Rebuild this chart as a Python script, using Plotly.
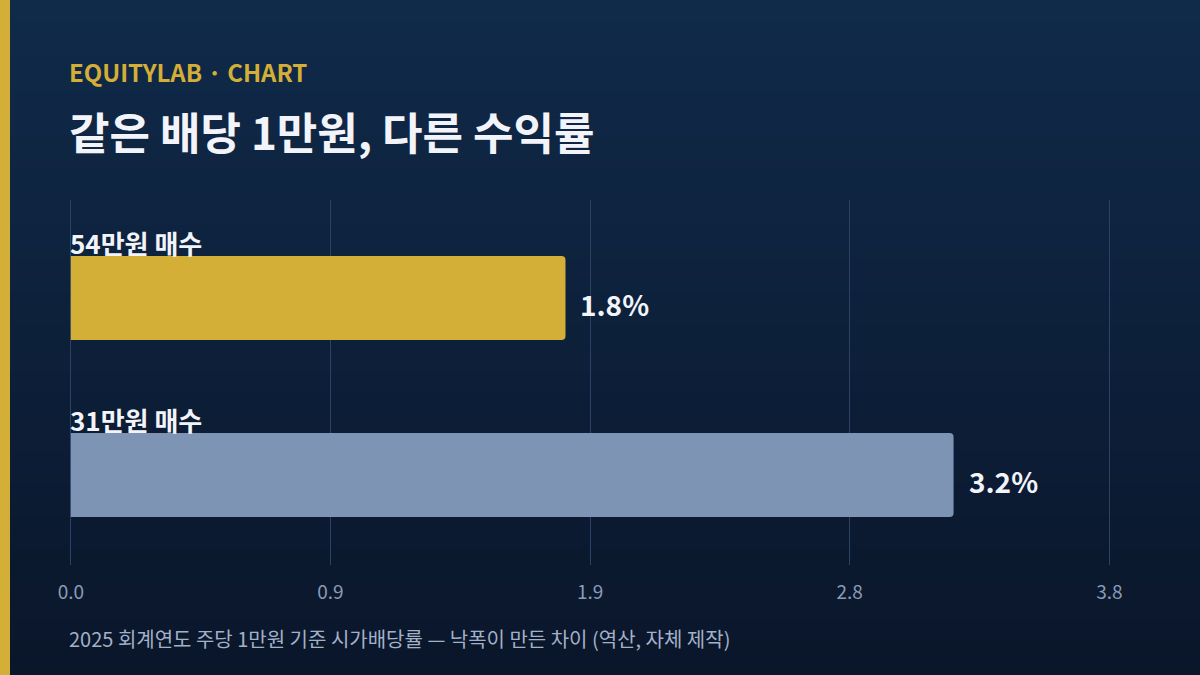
import plotly.graph_objects as go

categories = ["54만원 매수", "31만원 매수"]
values = [1.81, 3.23]
value_labels = ["1.8%", "3.2%"]
bar_colors = ["#D4AF37", "#7E94B5"]
tick_vals = [0, 0.95, 1.9, 2.85, 3.8]
tick_text = ["0.0", "0.9", "1.9", "2.8", "3.8"]

W, H = 1200, 675
L, R, T, B = 70, 89, 200, 110
PW, PH = W - L - R, H - T - B
FONT = "Noto Sans CJK KR"

def px_x(px):
    return (px - L) / PW

def px_y(py):
    return (H - B - py) / PH

fig = go.Figure()
fig.add_trace(go.Bar(
    x=values, y=categories, orientation="h",
    marker=dict(color=bar_colors, cornerradius=4, line=dict(width=0)),
    width=0.475, hoverinfo="skip",
))

shapes = []
top = (16, 42, 74)
bot = (10, 22, 42)
n = 60
for i in range(n):
    t = i / (n - 1)
    c = tuple(round(top[k] + (bot[k] - top[k]) * t) for k in range(3))
    y0 = i * H / n
    y1 = (i + 1) * H / n + 1
    shapes.append(dict(type="rect", xref="paper", yref="paper",
                       x0=px_x(0), x1=px_x(W), y0=px_y(y1), y1=px_y(y0),
                       fillcolor="rgb(%d,%d,%d)" % c, line=dict(width=0), layer="below"))
shapes.append(dict(type="rect", xref="paper", yref="paper",
                   x0=px_x(0), x1=px_x(10), y0=px_y(H), y1=px_y(0),
                   fillcolor="#D4AF37", line=dict(width=0), layer="below"))

annotations = []
annotations.append(dict(text="<b>EQUITYLAB · CHART</b>", xref="paper", yref="paper",
                        x=px_x(67), y=px_y(71), xanchor="left", yanchor="middle",
                        showarrow=False, font=dict(family=FONT, size=24, color="#D4AF37")))
annotations.append(dict(text="<b>같은 배당 1만원, 다른 수익률</b>", xref="paper", yref="paper",
                        x=px_x(67), y=px_y(131), xanchor="left", yanchor="middle",
                        showarrow=False, font=dict(family=FONT, size=44, color="#F2F4FA")))
annotations.append(dict(text="2025 회계연도 주당 1만원 기준 시가배당률 — 낙폭이 만든 차이 (역산, 자체 제작)",
                        xref="paper", yref="paper",
                        x=px_x(67), y=px_y(638), xanchor="left", yanchor="middle",
                        showarrow=False, font=dict(family=FONT, size=20, color="#A3B1C8")))
for cat, v, lab in zip(categories, values, value_labels):
    annotations.append(dict(text="<b>%s</b>" % cat, xref="paper", yref="y",
                            x=0, y=cat, xanchor="left", yanchor="middle", yshift=56, xshift=-2,
                            showarrow=False, font=dict(family=FONT, size=26, color="#F2F4FA")))
    annotations.append(dict(text="<b>%s</b>" % lab, xref="x", yref="y",
                            x=v, y=cat, xanchor="left", yanchor="middle", xshift=13, yshift=-6,
                            showarrow=False, font=dict(family=FONT, size=28, color="#F2F4FA")))

fig.update_layout(
    width=W, height=H,
    margin=dict(l=L, r=R, t=T, b=B, pad=0),
    paper_bgcolor="rgb(10,22,42)", plot_bgcolor="rgba(0,0,0,0)",
    showlegend=False,
    shapes=shapes, annotations=annotations,
    font=dict(family=FONT),
    xaxis=dict(range=[-0.003, 3.806], tickvals=tick_vals, ticktext=tick_text,
               showgrid=True, gridcolor="#2A4263", gridwidth=1,
               zeroline=True, zerolinecolor="#2A4263", zerolinewidth=1,
               showline=False, ticks="", ticklabelstandoff=14,
               tickfont=dict(family=FONT, size=19, color="#8A9BB7"), fixedrange=True),
    yaxis=dict(type="category", range=[1.508, -0.554], showgrid=False, zeroline=False,
               showline=False, showticklabels=False, ticks="", fixedrange=True),
)

fig.write_html("out.html", config={"displayModeBar": False},
               post_script="document.body.style.margin='0';document.body.style.overflow='hidden';")
